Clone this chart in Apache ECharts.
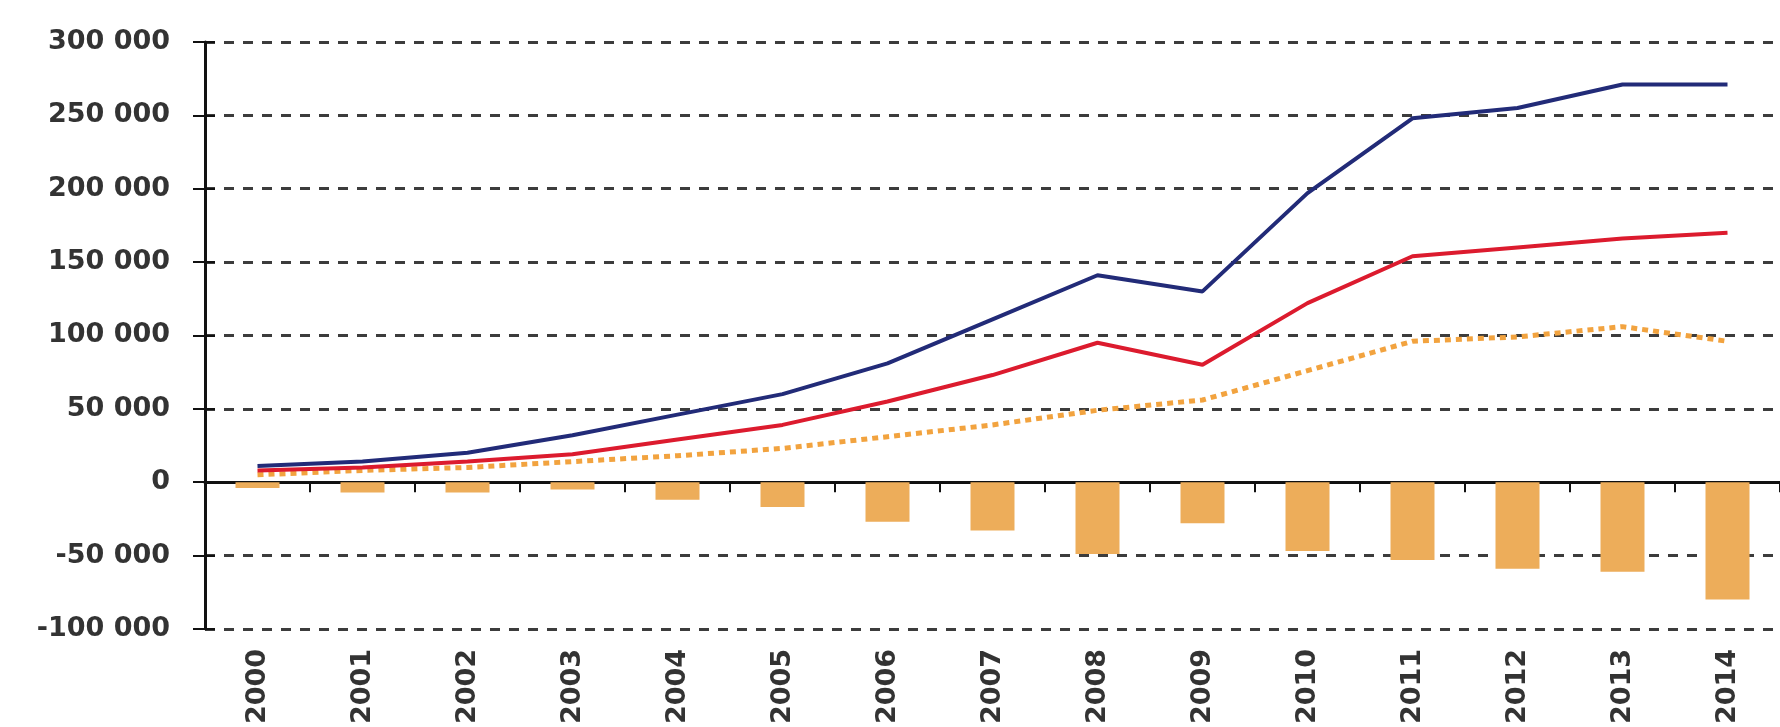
<!DOCTYPE html>
<html>
<head>
<meta charset="utf-8">
<script src="https://cdn.jsdelivr.net/npm/echarts@6/dist/echarts.min.js"></script>
<style>
  html, body { margin: 0; padding: 0; background: #ffffff; }
  #chart { width: 1780px; height: 727px; }
</style>
</head>
<body>
<div id="chart"></div>
<script>
// Years on the category axis
const years = ['2000', '2001', '2002', '2003', '2004', '2005', '2006', '2007',
               '2008', '2009', '2010', '2011', '2012', '2013', '2014'];

// Upper line (navy)
const navyLine = [11000, 14000, 20000, 32000, 46000, 60000, 81000, 111000,
                  141000, 130000, 197000, 248000, 255000, 271000, 271000];

// Middle line (red)
const redLine = [8000, 10000, 14000, 19000, 29000, 39000, 55000, 73000,
                 95000, 80000, 122000, 154000, 160000, 166000, 170000];

// Lower dotted line (orange)
const orangeLine = [5000, 8000, 10000, 14000, 18000, 23000, 31000, 39000,
                    49000, 56000, 76000, 96000, 99000, 106000, 96000];

// Negative balance bars
const balanceBars = [-4000, -7000, -7000, -5000, -12000, -17000, -27000, -33000,
                     -49000, -28000, -47000, -53000, -59000, -61000, -80000];

// Value axis range and step
const yMin = -100000;
const yMax = 300000;
const yStep = 50000;

const labelFont = { fontFamily: 'DejaVu Sans', fontSize: 27, fontWeight: 'bold', color: '#333333' };

function fmt(v) {
  const s = String(Math.abs(v)).replace(/\B(?=(\d{3})+(?!\d))/g, ' ');
  return (v < 0 ? '-' : '') + s;
}

const chart = echarts.init(document.getElementById('chart'), null, { renderer: 'canvas' });

chart.setOption({
  animation: false,
  backgroundColor: '#ffffff',
  grid: { left: 205, right: -21, top: 42, bottom: 91, containLabel: false },
  xAxis: [
    {
      type: 'category',
      data: years,
      position: 'bottom',
      axisLine: { onZero: true, lineStyle: { color: '#111', width: 3 } },
      axisTick: { show: true, alignWithLabel: false, length: 10, lineStyle: { color: '#111', width: 2 } },
      axisLabel: { show: false },
      splitLine: { show: false }
    },
    {
      type: 'category',
      data: years,
      position: 'bottom',
      axisLine: { show: false, onZero: false },
      axisTick: { show: false },
      axisLabel: Object.assign({ show: true, rotate: 90, margin: 20, interval: 0 }, labelFont),
      splitLine: { show: false }
    }
  ],
  yAxis: [
    {
      type: 'value',
      min: yMin, max: yMax, interval: yStep,
      position: 'left',
      axisLine: { show: true, onZero: false, lineStyle: { color: '#111', width: 3 } },
      axisTick: { show: true, length: 12, lineStyle: { color: '#111', width: 2 } },
      axisLabel: Object.assign({ margin: 35, formatter: fmt }, labelFont),
      splitLine: { show: true, lineStyle: { color: '#3c3c3c', width: 3, type: [10, 9] } }
    },
    {
      type: 'value',
      min: yMin, max: yMax, interval: yStep,
      position: 'left',
      offset: 0,
      axisLine: { show: false },
      axisTick: { show: true, inside: true, length: 10, lineStyle: { color: '#111', width: 2 } },
      axisLabel: { show: false },
      splitLine: { show: false }
    }
  ],
  series: [
    {
      type: 'bar',
      data: balanceBars,
      barWidth: 44,
      itemStyle: { color: '#EDAD5A' },
      z: 1
    },
    {
      type: 'line',
      data: orangeLine,
      showSymbol: false,
      lineStyle: { color: '#F2A33F', width: 5, type: [6, 5] },
      z: 3
    },
    {
      type: 'line',
      data: redLine,
      showSymbol: false,
      lineStyle: { color: '#DC1B2E', width: 4 },
      z: 4
    },
    {
      type: 'line',
      data: navyLine,
      showSymbol: false,
      lineStyle: { color: '#222B78', width: 4 },
      z: 5
    }
  ]
});
</script>
</body>
</html>
